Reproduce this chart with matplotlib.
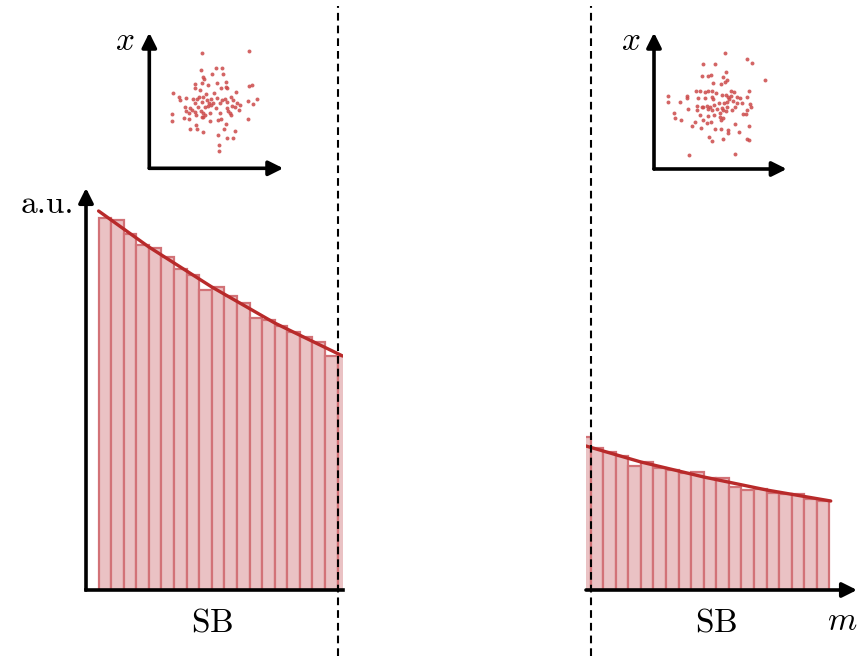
import numpy as np
import matplotlib
matplotlib.use("Agg")
import matplotlib.pyplot as plt

plt.rcParams["mathtext.fontset"] = "cm"

W, H = 859, 656

# sideband histograms (a.u.), one value per bin
left_counts = [372, 370, 356, 345, 342, 333, 321, 315, 300, 303, 294, 287,
               272, 270, 264, 258, 253, 248, 234, 234]
right_counts = [153, 142, 138, 134, 124, 128, 122, 120, 117, 118, 112, 112,
                103, 100, 101, 97, 96, 96, 91, 89]
left_first_bin = 0
right_first_bin = -1

left_fit_m = [0, 4, 9, 14, 19.4]
left_fit_y = [379, 343, 303, 267, 234]
right_fit_m = [-0.37, 4, 9, 14, 19.1]
right_fit_y = [144, 128, 113, 100, 89]

# signal region boundaries
left_edge = 19
right_edge = 0

# scatter insets
left_sx = [185, 327, 183, 228, 245, 188, 192, 217, 248, 166, 185, 203, 232, 257, 258, 165, 180, 243, 260, 98,
           197, 222, 287, 326, 337, 118, 138, 160, 170, 178, 190, 200, 213, 230, 245, 255, 273, 280, 325, 350,
           120, 165, 185, 207, 220, 240, 262, 290, 300, 338, 135, 150, 175, 195, 205, 213, 228, 262, 275, 285,
           298, 138, 157, 165, 183, 190, 210, 240, 263, 270, 95, 148, 168, 185, 195, 272, 133, 148, 188, 210,
           235, 243, 95, 325, 258, 168, 150, 172, 190, 253, 285, 233, 262, 278, 238, 237]
left_sy = [350, 358, 300, 307, 305, 280, 272, 287, 287, 258, 262, 255, 260, 265, 250, 245, 240, 247, 245, 232,
           228, 230, 235, 252, 254, 220, 217, 212, 214, 218, 220, 210, 212, 215, 210, 212, 218, 210, 207, 214,
           210, 202, 205, 200, 202, 202, 205, 200, 195, 197, 190, 185, 190, 188, 192, 195, 185, 187, 192, 188,
           180, 178, 180, 175, 178, 172, 172, 172, 178, 170, 168, 170, 165, 160, 165, 165, 157, 154, 158, 147,
           150, 154, 148, 154, 137, 135, 124, 122, 115, 124, 116, 105, 95, 95, 75, 57]
right_sx = [255, 322, 337, 190, 225, 259, 186, 205, 212, 250, 376, 255, 242, 220, 262, 168, 180, 195, 205, 215,
            228, 272, 282, 328, 84, 140, 142, 175, 195, 215, 220, 245, 258, 265, 272, 292, 300, 322, 84, 120,
            190, 200, 210, 222, 238, 252, 260, 268, 278, 292, 305, 330, 172, 186, 205, 230, 245, 250, 262, 285,
            332, 145, 170, 215, 240, 258, 275, 320, 102, 180, 205, 222, 240, 248, 310, 318, 106, 124, 165, 190,
            200, 212, 242, 157, 183, 225, 242, 263, 286, 326, 298, 208, 215, 250, 264, 320, 328, 148, 286]
right_sy = [352, 333, 320, 318, 317, 294, 282, 282, 284, 278, 269, 265, 258, 260, 270, 238, 236, 235, 237, 237,
            230, 238, 234, 237, 223, 222, 215, 217, 215, 218, 214, 224, 225, 220, 222, 218, 215, 218, 203, 205,
            190, 192, 188, 195, 200, 202, 205, 212, 207, 200, 200, 197, 192, 188, 182, 182, 185, 180, 188, 188,
            188, 182, 180, 180, 170, 178, 180, 180, 172, 165, 162, 165, 160, 157, 168, 167, 155, 150, 145, 150,
            142, 145, 150, 132, 125, 122, 122, 120, 138, 132, 115, 98, 88, 92, 110, 93, 90, 44, 48]

FILL = "#eac2c4"
EDGE = "#d27277"
FIT = "#b82a2a"
DOT = "#cc4a4a"


def px_axes(fig, x0, y0, x1, y1):
    return fig.add_axes([x0 / W, 1 - y1 / H, (x1 - x0) / W, (y1 - y0) / H])


def arrow(ax, start, end):
    ax.annotate("", xy=end, xytext=start, xycoords="axes fraction",
                arrowprops=dict(arrowstyle="-|>", color="black", lw=2.6,
                                mutation_scale=22, shrinkA=0, shrinkB=0),
                annotation_clip=False)


def draw_hist(ax, first_bin, counts, fit_m, fit_y):
    bins = first_bin + np.arange(len(counts))
    ax.bar(bins, counts, width=1, align="edge", color=FILL, edgecolor=EDGE, linewidth=1.6)
    ax.plot(fit_m, fit_y, color=FIT, lw=2.4, solid_capstyle="round", zorder=3)
    ax.set_ylim(0, 400)
    ax.set_xticks([])
    ax.set_yticks([])
    for s in ax.spines.values():
        s.set_visible(False)


def draw_scatter(ax, xs, ys, xlim, ylim):
    ax.scatter(xs, ys, s=8, color=DOT, alpha=0.85, linewidths=0)
    ax.set_xlim(*xlim)
    ax.set_ylim(*ylim)
    ax.axis("off")
    arrow(ax, (0, 0), (0, 1))
    arrow(ax, (0, 0), (1, 0))


fig = plt.figure(figsize=(W / 100, H / 100), dpi=100)

# left sideband
ax_l = px_axes(fig, 86, 190, 343.3, 590)
draw_hist(ax_l, left_first_bin, left_counts, left_fit_m, left_fit_y)
ax_l.set_xlim(-1.0, 19.45)
ax_l.spines["bottom"].set_visible(True)
ax_l.spines["bottom"].set_linewidth(2.6)
arrow(ax_l, (0, 0), (0, 1.005))
ax_l.axvline(left_edge, ymin=(590 - 656) / 400, ymax=(590 - 6) / 400, clip_on=False,
             color="black", lw=1.5, ls=(0, (3.7, 2.4)), zorder=4)

# right sideband
ax_r = px_axes(fig, 586, 190, 857, 590)
draw_hist(ax_r, right_first_bin, right_counts, right_fit_m, right_fit_y)
ax_r.set_xlim(-0.37, 21.19)
arrow(ax_r, (0, 0), (1, 0))
ax_r.axvline(right_edge, ymin=(590 - 656) / 400, ymax=(590 - 6) / 400, clip_on=False,
             color="black", lw=1.5, ls=(0, (3.7, 2.4)), zorder=4)

# scatter insets
ax_sl = px_axes(fig, 149.3, 32.7, 283.3, 168.3)
draw_scatter(ax_sl, left_sx, left_sy, (28, 430), (5, 412))
ax_sr = px_axes(fig, 654, 32.7, 786.7, 169)
draw_scatter(ax_sr, right_sx, right_sy, (42, 440), (3, 412))

# labels
def label(x, y, s, **kw):
    fig.text(x / W, 1 - y / H, s, fontsize=24, ha="center", va="center", **kw)

label(47, 204, "a.u.", family="cmr10")
label(212, 622, r"$\mathrm{SB}$")
label(716, 622, r"$\mathrm{SB}$")
label(842, 620, r"$m$")
label(125, 40, r"$x$")
label(631, 40, r"$x$")

fig.savefig("out.png", dpi=100)
